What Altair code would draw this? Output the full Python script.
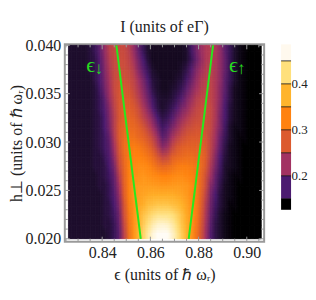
import altair as alt
import pandas as pd

col_x0 = [round(0.826 + 0.002 * i, 3) for i in range(40)]
row_h = [0.0395, 0.0385, 0.0375, 0.0365, 0.0355, 0.0345, 0.0335, 0.0325, 0.0315, 0.0305,
         0.0295, 0.0285, 0.0275, 0.0265, 0.0255, 0.0245, 0.0235, 0.0225, 0.0215, 0.0205]
grid = [
 [.15,.15,.15,.15,.155,.165,.185,.215,.245,.255,.258,.258,.245,.22,.19,.165,.15,.145,.145,.145,.145,.145,.145,.145,.15,.17,.195,.22,.235,.24,.235,.215,.185,.165,.15,.14,.135,.13,.13,.13],
 [.15,.15,.15,.15,.155,.16,.18,.21,.24,.255,.26,.26,.25,.23,.2,.175,.155,.145,.145,.145,.145,.145,.145,.145,.15,.165,.19,.215,.235,.242,.235,.215,.19,.165,.15,.14,.135,.13,.13,.13],
 [.15,.15,.15,.15,.155,.16,.178,.205,.235,.255,.262,.262,.255,.24,.21,.185,.165,.15,.145,.145,.145,.145,.145,.15,.16,.18,.205,.225,.24,.245,.235,.215,.19,.165,.15,.14,.135,.13,.13,.13],
 [.15,.15,.15,.15,.15,.16,.175,.2,.23,.255,.265,.265,.26,.25,.225,.2,.175,.155,.15,.145,.145,.145,.15,.155,.17,.19,.215,.235,.245,.248,.235,.215,.185,.165,.15,.14,.135,.13,.13,.13],
 [.15,.15,.15,.15,.15,.155,.17,.195,.225,.255,.268,.27,.268,.255,.235,.21,.185,.16,.15,.145,.145,.15,.155,.165,.185,.205,.225,.24,.25,.25,.235,.21,.185,.16,.145,.14,.135,.13,.13,.13],
 [.15,.15,.15,.15,.15,.155,.165,.185,.22,.25,.27,.275,.275,.265,.245,.22,.195,.17,.155,.15,.15,.155,.165,.18,.2,.22,.24,.25,.255,.25,.235,.21,.18,.16,.145,.14,.135,.13,.13,.13],
 [.15,.15,.15,.15,.15,.155,.165,.18,.21,.245,.27,.28,.28,.275,.26,.235,.21,.18,.16,.15,.155,.165,.18,.2,.215,.235,.25,.258,.26,.255,.235,.205,.175,.155,.145,.14,.135,.13,.13,.13],
 [.15,.15,.15,.15,.15,.155,.16,.175,.205,.24,.27,.285,.29,.285,.27,.25,.23,.205,.175,.16,.165,.18,.20,.22,.235,.25,.258,.262,.262,.255,.235,.2,.175,.155,.145,.14,.135,.13,.13,.13],
 [.15,.15,.15,.15,.15,.155,.16,.175,.20,.24,.275,.29,.295,.295,.285,.27,.25,.225,.195,.17,.18,.20,.22,.24,.255,.262,.268,.268,.265,.255,.23,.2,.17,.15,.14,.14,.135,.13,.13,.13],
 [.15,.15,.15,.15,.15,.155,.16,.17,.19,.235,.275,.295,.305,.305,.295,.285,.27,.25,.22,.185,.195,.225,.245,.26,.27,.275,.275,.275,.27,.25,.225,.19,.165,.15,.14,.135,.135,.13,.13,.13],
 [.15,.15,.15,.15,.15,.155,.16,.17,.185,.225,.27,.30,.315,.32,.315,.305,.29,.27,.24,.21,.22,.25,.27,.28,.285,.285,.285,.285,.275,.25,.22,.185,.16,.145,.14,.135,.13,.13,.13,.13],
 [.15,.15,.15,.15,.15,.155,.155,.165,.18,.215,.265,.295,.315,.325,.325,.32,.31,.295,.27,.25,.255,.28,.29,.295,.30,.30,.295,.295,.28,.245,.21,.175,.155,.145,.14,.135,.13,.13,.13,.13],
 [.15,.15,.15,.15,.15,.155,.155,.16,.175,.20,.255,.29,.32,.33,.335,.335,.33,.315,.30,.29,.295,.305,.315,.32,.32,.315,.31,.30,.275,.235,.20,.17,.15,.145,.14,.135,.13,.13,.13,.13],
 [.15,.15,.15,.15,.15,.15,.155,.16,.17,.19,.24,.285,.32,.335,.34,.345,.34,.335,.33,.325,.325,.33,.335,.335,.33,.325,.315,.295,.265,.225,.19,.165,.15,.14,.135,.135,.13,.13,.13,.13],
 [.15,.15,.15,.15,.15,.15,.155,.155,.165,.185,.225,.28,.32,.345,.35,.352,.352,.35,.348,.345,.345,.348,.35,.348,.345,.335,.32,.295,.26,.21,.185,.16,.145,.14,.135,.13,.13,.13,.13,.13],
 [.15,.15,.15,.15,.15,.15,.15,.155,.165,.18,.215,.275,.32,.345,.355,.36,.365,.37,.37,.37,.37,.37,.365,.36,.35,.335,.32,.29,.25,.20,.175,.155,.145,.14,.135,.13,.13,.13,.13,.13],
 [.15,.15,.15,.15,.15,.15,.15,.155,.16,.175,.205,.265,.315,.34,.36,.37,.385,.39,.395,.395,.395,.39,.385,.375,.36,.34,.32,.285,.24,.195,.17,.155,.145,.135,.135,.13,.13,.13,.13,.13],
 [.15,.15,.15,.15,.15,.15,.15,.155,.16,.17,.195,.26,.31,.34,.365,.39,.405,.42,.43,.43,.43,.425,.41,.39,.365,.345,.32,.28,.235,.19,.165,.15,.14,.135,.13,.13,.13,.13,.13,.13],
 [.15,.15,.15,.15,.15,.15,.15,.155,.155,.165,.19,.25,.305,.34,.37,.40,.425,.45,.465,.47,.465,.45,.425,.395,.37,.345,.315,.275,.23,.185,.16,.15,.14,.135,.13,.13,.13,.13,.13,.13],
 [.15,.15,.15,.15,.15,.15,.15,.15,.155,.165,.185,.24,.30,.34,.375,.41,.445,.475,.495,.50,.495,.47,.44,.405,.375,.345,.31,.27,.225,.18,.16,.15,.14,.135,.13,.13,.13,.13,.13,.13],
]

stops = [.13, .15, .175, .225, .275, .325, .375, .425, .49]
stop_colors = ["#000000", "#1f0f2e", "#4b1b70", "#a23262", "#dc5a2e", "#ff8210", "#ffb42c", "#ffe07c", "#fffdf6"]

x_major = [0.84, 0.86, 0.88, 0.90]
x_minor = [0.825, 0.83, 0.835, 0.845, 0.85, 0.855, 0.865, 0.87, 0.875, 0.885, 0.89, 0.895, 0.905]
y_major = [0.020, 0.025, 0.030, 0.035, 0.040]
y_minor = [0.021, 0.022, 0.023, 0.024, 0.026, 0.027, 0.028, 0.029, 0.031, 0.032, 0.033, 0.034, 0.036, 0.037, 0.038, 0.039]

line_left_x = [0.8459, 0.8560]
line_right_x = [0.8860, 0.8759]
line_h = [0.040, 0.020]

label_text = ["ϵ", "↓", "ϵ", "↑"]
label_x = [0.8352, 0.8386, 0.8945, 0.8977]
label_h = [0.0380, 0.0376, 0.0380, 0.0376]
label_size = [22, 17, 22, 17]

band_lo = [.126, .15, .20, .25, .30, .35, .40, .45]
band_hi = [.15, .20, .25, .30, .35, .40, .45, .486]
band_colors = ["#000000", "#4b1b70", "#a23262", "#dc5a2e", "#ff8210", "#ffb42c", "#ffe07c", "#fff9ee"]
bar_ticks = [.15, .20, .25, .30, .35, .40, .45]
bar_labels = [.2, .3, .4]

FONT = "Liberation Serif"
GREY = "#9a9a9a"
INK = "#222222"
xs = alt.Scale(domain=[0.8245, 0.9072], nice=False, zero=False)
ys = alt.Scale(domain=[0.0197, 0.0401], nice=False, zero=False)
XTITLE = "ϵ (units of ℏ ωᵣ)"
YTITLE = "h⊥ (units of ℏ ωᵣ)"
AX = alt.Axis(values=x_major, format=".2f", ticks=False, domain=False, grid=False, labelFont=FONT, labelFontSize=16,
              labelColor=INK, titleFont=FONT, titleFontSize=16, titleFontWeight="normal", titleColor=INK,
              labelPadding=3, titlePadding=6, title=XTITLE)
AY = alt.Axis(values=y_major, format=".3f", ticks=False, domain=False, grid=False, labelFont=FONT, labelFontSize=16,
              labelColor=INK, titleFont=FONT, titleFontSize=16, titleFontWeight="normal", titleColor=INK,
              labelPadding=4, titlePadding=0, title=YTITLE)
EX = alt.X("x:Q", scale=xs, axis=AX)
EY = alt.Y("y:Q", scale=ys, axis=AY)

cs = alt.Scale(domain=stops, range=stop_colors, clamp=True, interpolate="rgb")

def cell_table(dx, dh):
    rows = []
    for r, h in enumerate(row_h):
        for c, x0 in enumerate(col_x0):
            a = 0.826 if c == 0 else x0 + dx
            b = 0.906 if c == 39 else x0 + 0.002 + dx
            lo = 0.020 if r == 19 else h - 0.0005 + dh
            hi = 0.040 if r == 0 else h + 0.0005 + dh
            rows.append({"x": a, "x1": b, "y": lo, "y1": hi, "v": grid[r][c]})
    return pd.DataFrame(rows)

shifts = [(-0.00075, 0.000375), (0.00025, 0.000125), (-0.00025, -0.000125), (0.00075, -0.000375)]
heat_layers = []
for k, (dx, dh) in enumerate(shifts):
    kw = {"strokeWidth": 0.6} if k == 0 else {"opacity": 1 / (k + 1)}
    enc = {"stroke": alt.Stroke("v:Q", scale=cs, legend=None)} if k == 0 else {}
    heat_layers.append(alt.Chart(cell_table(dx, dh)).mark_rect(**kw).encode(
        x=EX, x2="x1:Q", y=EY, y2="y1:Q", color=alt.Color("v:Q", scale=cs, legend=None), **enc))

def xticks(vals, size):
    base = alt.Chart(pd.DataFrame({"x": vals})).mark_rule(color=GREY, strokeWidth=1)
    return (base.encode(x=EX, y=alt.value(198), y2=alt.value(198 - size))
            + base.encode(x=EX, y=alt.value(0), y2=alt.value(size)))

def yticks(vals, size):
    base = alt.Chart(pd.DataFrame({"y": vals})).mark_rule(color=GREY, strokeWidth=1)
    return (base.encode(y=EY, x=alt.value(0), x2=alt.value(size))
            + base.encode(y=EY, x=alt.value(200), x2=alt.value(200 - size)))

lines = pd.DataFrame({
    "x": line_left_x + line_right_x,
    "y": line_h + line_h,
    "s": ["down", "down", "up", "up"],
})
green = alt.Chart(lines).mark_line(color="#27e81e", strokeWidth=2).encode(x=EX, y=EY, detail="s:N")

labels = pd.DataFrame({"t": label_text, "x": label_x, "y": label_h, "size": label_size})
green_text = alt.Chart(labels).mark_text(color="#27d81e", font=FONT).encode(
    x=EX, y=EY, text="t:N", size=alt.Size("size:Q", scale=None, legend=None))

panel = alt.layer(*heat_layers, xticks(x_major, 5), xticks(x_minor, 3), yticks(y_major, 5), yticks(y_minor, 3),
                  green, green_text).properties(
    width=200, height=198,
    title=alt.TitleParams("I (units of eΓ)", font=FONT, fontSize=16, fontWeight="normal", color=INK, offset=2),
    view=alt.ViewBackground(stroke=GREY, strokeWidth=2),
)

bs = alt.Scale(domain=[.126, .486], nice=False, zero=False)
BY = alt.Axis(orient="right", values=bar_labels, format=".1f", ticks=False, domain=False, grid=False,
              labelFont=FONT, labelFontSize=13, labelColor=INK, labelPadding=0, title=None)
bands = pd.DataFrame({"y": band_lo, "hi": band_hi, "c": band_colors})
bar = alt.Chart(bands).mark_rect().encode(
    x=alt.value(0), x2=alt.value(10),
    y=alt.Y("y:Q", scale=bs, axis=BY),
    y2="hi:Q",
    color=alt.Color("c:N", scale=None, legend=None),
)
bar_rules = alt.Chart(pd.DataFrame({"y": bar_ticks})).mark_rule(color="#000000", strokeWidth=1, opacity=0.75).encode(
    y=alt.Y("y:Q", scale=bs, axis=BY), x=alt.value(0), x2=alt.value(10))
legend = (bar + bar_rules).properties(width=10, height=166, view=alt.ViewBackground(stroke=None))

chart = alt.hconcat(panel, legend, spacing=14).resolve_scale(color="independent").properties(
    padding={"left": 0, "top": 9, "right": 0, "bottom": 0})
chart.save("out.html", embed_options={"renderer": "svg", "actions": False})
